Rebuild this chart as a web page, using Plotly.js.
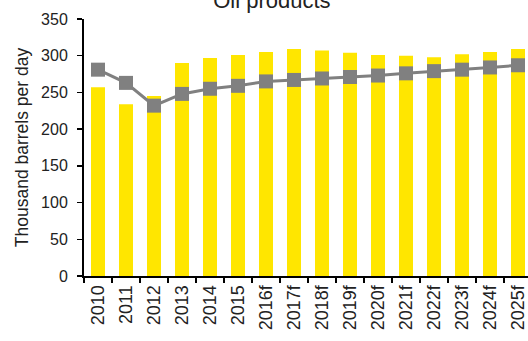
<!DOCTYPE html>
<html><head><meta charset="utf-8">
<script src="https://cdn.plot.ly/plotly-3.0.1.min.js"></script>
<style>html,body{margin:0;padding:0;overflow:hidden;background:#fff;}#chart{width:528px;height:341px;}</style>
</head><body><div id="chart"></div>
<script>
const years = ["2010","2011","2012","2013","2014","2015","2016f","2017f","2018f","2019f","2020f","2021f","2022f","2023f","2024f","2025f"];
const barValues = [257,234,245,290,297,301,305,309,307,304,301,300,298,302,305,309];
const lineValues = [281,263,232,248,255,259,265,267,269,271,273,276,279,281,284,287];
const yTicks = [0,50,100,150,200,250,300,350];

const fam = '"Liberation Sans", Arial, sans-serif';
const yFont = {family: fam, size: 16, color: '#222'};
const xFont = {family: fam, size: 18, color: '#222'};
const data = [
  {type:'bar', x: years, y: barValues, marker:{color:'#FFE600'}, width:0.5, hoverinfo:'skip'},
  {type:'scatter', mode:'lines+markers', x: years, y: lineValues,
   line:{color:'#808080', width:3}, marker:{symbol:'square', size:14, color:'#808080'}}
];
const layout = {
  width:528, height:341,
  margin:{l:84, r:0, t:19, b:65},
  showlegend:false,
  paper_bgcolor:'#fff', plot_bgcolor:'#fff',
  font: yFont,
  title:{text:'Oil products', font:{family:fam, size:22, color:'#222'}, x:0.515, xref:'container', xanchor:'center', y:1, yref:'container', yanchor:'middle'},
  xaxis:{type:'category', range:[-0.5, -0.5 + 444/28], showline:true, linecolor:'#000', linewidth:2,
    ticks:'outside', ticklen:5, tickwidth:1.5, tickcolor:'#000', tickson:'boundaries', tickangle:-90,
    showgrid:false, zeroline:false, tickfont:xFont, fixedrange:true},
  yaxis:{range:[0,350], tickvals:yTicks, ticktext:yTicks.map(String), showline:true, linecolor:'#000', linewidth:2,
    ticks:'outside', ticklen:5, tickwidth:1.5, tickcolor:'#000', showgrid:false, zeroline:false,
    tickfont:yFont, ticklabelstandoff:6,
    title:{text:'Thousand barrels per day', font:{family:fam, size:17.5, color:'#222'}, standoff:8}, fixedrange:true}
};
Plotly.newPlot('chart', data, layout, {staticPlot:true, displayModeBar:false});
</script></body></html>
